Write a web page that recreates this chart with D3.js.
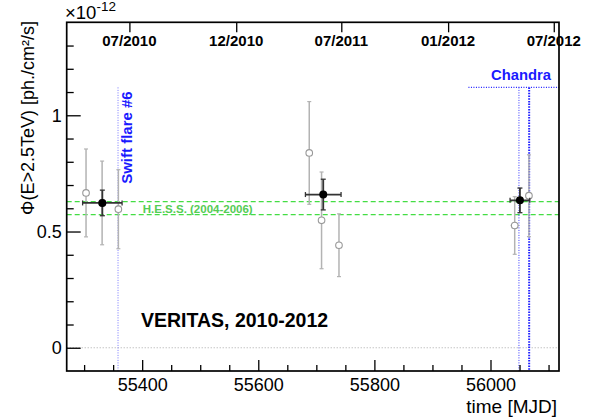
<!DOCTYPE html>
<html>
<head>
<meta charset="utf-8">
<script src="https://cdn.jsdelivr.net/npm/d3@7"></script>
<style>
  html, body { margin: 0; padding: 0; background: #fff; }
  svg { display: block; font-family: "Liberation Sans", Arial, Helvetica, sans-serif; }
</style>
</head>
<body>
<svg id="chart" width="589" height="420"></svg>
<script>
// ---- data (flux in units of 1e-12 ph/cm^2/s, time in MJD) ----
// per-period (gray, open) points
const grayMJD    = [55303.3, 55331.0, 55359.0, 55687.8, 55709.0, 55739.0, 56041.7, 56066.2];
const grayFlux   = [0.666,   0.623,   0.596,   0.838,   0.548,   0.441,   0.526,   0.654];
const grayErr    = [0.189,   0.180,   0.170,   0.221,   0.208,   0.135,   0.124,   0.176];
const grayXErr   = [2, 2, 2, 2, 2, 2, 7, 2];
// season-averaged (black, filled) points
const blackMJD   = [55331.4, 55711.9, 56050.7];
const blackFlux  = [0.623,   0.659,   0.634];
const blackErr   = [0.055,   0.066,   0.053];
const blackXErr  = [34.0,    30.7,    17.0];
// HESS band (2004-2006)
const hessBand   = [0.573, 0.629];
// Observation markers
const swiftMJD   = 55358.4;
const chandraMJD = [56049.0, 56066.6];
const chandraStart = 55962;
const markerTop  = 1.12;
// axis ticks
const xMajor     = [55400, 55600, 55800, 56000];
const xMinor     = [55300, 55350, 55450, 55500, 55550, 55650, 55700, 55750, 55850, 55900, 55950, 56050, 56100];
const yMajor     = [0, 0.5, 1];
const yMinor     = [0.1, 0.2, 0.3, 0.4, 0.6, 0.7, 0.8, 0.9, 1.1, 1.2, 1.3];
const dateTickMJD   = [55378, 55562, 55743, 55927, 56109];
const dateTickLabel = ["07/2010", "12/2010", "07/2011", "01/2012", "07/2012"];

// ---- layout ----
const L = 66.7, R = 559, T = 22.3, B = 371;
const svg = d3.select("#chart");
svg.append("rect").attr("width", 589).attr("height", 420).attr("fill", "#fff");

const x = d3.scaleLinear().domain([55270, 56118]).range([L, R]);
const y = d3.scaleLinear().domain([-0.1, 1.4]).range([B, T]);

// zero line
svg.append("line").attr("x1", L).attr("x2", R).attr("y1", y(0)).attr("y2", y(0))
  .attr("stroke", "#aaa").attr("stroke-width", 1).attr("stroke-dasharray", "1,2");

// HESS band
hessBand.forEach(v => {
  svg.append("line").attr("x1", L).attr("x2", R).attr("y1", y(v)).attr("y2", y(v))
    .attr("stroke", "#44dd44").attr("stroke-width", 1.2).attr("stroke-dasharray", "5,3");
});
svg.append("text").attr("x", x(55401)).attr("y", y(0.573) - 1.5)
  .attr("font-size", 11.5).attr("font-weight", "bold").attr("fill", "#55cc55")
  .text("H.E.S.S. (2004-2006)");

// Swift line
svg.append("line").attr("x1", x(swiftMJD)).attr("x2", x(swiftMJD))
  .attr("y1", y(markerTop)).attr("y2", B)
  .attr("stroke", "#7777ff").attr("stroke-width", 1).attr("stroke-dasharray", "1,1.5");
svg.append("text")
  .attr("transform", `translate(${x(swiftMJD) + 13.5},${y(0.705)}) rotate(-90)`)
  .attr("font-size", 15).attr("font-weight", "bold").attr("fill", "#1a1aff")
  .text("Swift flare #6");

// Chandra lines
svg.append("line").attr("x1", x(chandraStart)).attr("x2", R)
  .attr("y1", y(markerTop)).attr("y2", y(markerTop))
  .attr("stroke", "#2222ff").attr("stroke-width", 1.3).attr("stroke-dasharray", "1,1.5");
svg.append("line").attr("x1", x(chandraMJD[0])).attr("x2", x(chandraMJD[0]))
  .attr("y1", y(markerTop)).attr("y2", B)
  .attr("stroke", "#3333ff").attr("stroke-width", 1).attr("stroke-dasharray", "1,1.5");
svg.append("line").attr("x1", x(chandraMJD[1])).attr("x2", x(chandraMJD[1]))
  .attr("y1", y(markerTop)).attr("y2", B)
  .attr("stroke", "#2222ff").attr("stroke-width", 2).attr("stroke-dasharray", "1.5,1.2");
svg.append("text").attr("x", 551).attr("y", 80).attr("text-anchor", "end")
  .attr("font-size", 14.8).attr("font-weight", "bold").attr("fill", "#1a1aff")
  .text("Chandra");

// gray error bars
const gray = svg.append("g");
grayMJD.forEach((m, i) => {
  const cx = x(m), cy = y(grayFlux[i]);
  const y1 = y(grayFlux[i] + grayErr[i]), y2 = y(grayFlux[i] - grayErr[i]);
  gray.append("line").attr("x1", cx).attr("x2", cx).attr("y1", y1).attr("y2", y2)
    .attr("stroke", "#b3b3b3").attr("stroke-width", 1.5);
  [y1, y2].forEach(yy => gray.append("line").attr("x1", cx - 2).attr("x2", cx + 2)
    .attr("y1", yy).attr("y2", yy).attr("stroke", "#b3b3b3").attr("stroke-width", 1.2));
  gray.append("line").attr("x1", x(m - grayXErr[i])).attr("x2", x(m + grayXErr[i]))
    .attr("y1", cy).attr("y2", cy).attr("stroke", "#b3b3b3").attr("stroke-width", 1.5);
});
grayMJD.forEach((m, i) => {
  gray.append("circle").attr("cx", x(m)).attr("cy", y(grayFlux[i])).attr("r", 3.3)
    .attr("fill", "#fff").attr("stroke", "#999").attr("stroke-width", 1.1);
});

// black points
const blk = svg.append("g");
blackMJD.forEach((m, i) => {
  const cx = x(m), cy = y(blackFlux[i]);
  const y1 = y(blackFlux[i] + blackErr[i]), y2 = y(blackFlux[i] - blackErr[i]);
  const x1 = x(m - blackXErr[i]), x2 = x(m + blackXErr[i]);
  blk.append("line").attr("x1", cx).attr("x2", cx).attr("y1", y1).attr("y2", y2)
    .attr("stroke", "#333").attr("stroke-width", 1.8);
  blk.append("line").attr("x1", x1).attr("x2", x2).attr("y1", cy).attr("y2", cy)
    .attr("stroke", "#333").attr("stroke-width", 1.8);
  [y1, y2].forEach(yy => blk.append("line").attr("x1", cx - 2.5).attr("x2", cx + 2.5)
    .attr("y1", yy).attr("y2", yy).attr("stroke", "#333").attr("stroke-width", 1.3));
  [x1, x2].forEach(xx => blk.append("line").attr("x1", xx).attr("x2", xx)
    .attr("y1", cy - 2.5).attr("y2", cy + 2.5).attr("stroke", "#333").attr("stroke-width", 1.3));
  blk.append("circle").attr("cx", cx).attr("cy", cy).attr("r", 4).attr("fill", "#000");
});

// ---- axes ----
const styleAxis = g => {
  g.select(".domain").remove();
  g.selectAll(".tick line").attr("stroke", "#000").attr("stroke-width", 1.3);
  g.selectAll(".tick text").attr("fill", "#000");
};
svg.append("g").attr("transform", `translate(0,${B})`)
  .call(d3.axisBottom(x).tickValues(xMajor).tickSize(-11).tickPadding(7).tickFormat(d3.format("d")))
  .call(styleAxis)
  .call(g => g.selectAll("text").attr("font-size", 18).attr("font-family", "Liberation Sans, Arial, sans-serif"));
svg.append("g").attr("transform", `translate(0,${B})`)
  .call(d3.axisBottom(x).tickValues(xMinor).tickSize(-6).tickFormat(""))
  .call(styleAxis);

svg.append("g").attr("transform", `translate(${L},0)`)
  .call(d3.axisLeft(y).tickValues(yMajor).tickSize(-14).tickPadding(5).tickFormat(d => d === 0.5 ? "0.5" : d3.format("d")(d)))
  .call(styleAxis)
  .call(g => g.selectAll("text").attr("font-size", 18).attr("font-family", "Liberation Sans, Arial, sans-serif"));
svg.append("g").attr("transform", `translate(${L},0)`)
  .call(d3.axisLeft(y).tickValues(yMinor).tickSize(-7).tickFormat(""))
  .call(styleAxis);

svg.append("g").attr("transform", `translate(0,${T})`)
  .call(d3.axisTop(x).tickValues(dateTickMJD).tickSize(-10).tickFormat(""))
  .call(styleAxis);
svg.append("g").selectAll("text").data(dateTickMJD).join("text")
  .attr("x", d => x(d)).attr("y", 45.5).attr("text-anchor", "middle")
  .attr("font-size", 15).attr("font-weight", "bold")
  .text((d, i) => dateTickLabel[i]);

// frame
svg.append("rect").attr("x", L).attr("y", T).attr("width", R - L).attr("height", B - T)
  .attr("fill", "none").attr("stroke", "#000").attr("stroke-width", 1.7);

// exponent
const ex = svg.append("text").attr("x", 65).attr("y", 18.5).attr("font-size", 18.5);
ex.append("tspan").text("\u00d710");
ex.append("tspan").attr("font-size", 13.5).attr("dy", -8).text("-12");

// axis titles
svg.append("text").attr("x", 557).attr("y", 412.7).attr("text-anchor", "end")
  .attr("font-size", 19).text("time [MJD]");
svg.append("text").attr("transform", `translate(34,21) rotate(-90)`)
  .attr("text-anchor", "end").attr("font-size", 18)
  .text("\u03a6(E>2.5TeV) [ph./cm\u00b2/s]");

// label
svg.append("text").attr("x", 141).attr("y", 326.7)
  .attr("font-size", 19.5).attr("font-weight", "bold").text("VERITAS, 2010-2012");
</script>
</body>
</html>
